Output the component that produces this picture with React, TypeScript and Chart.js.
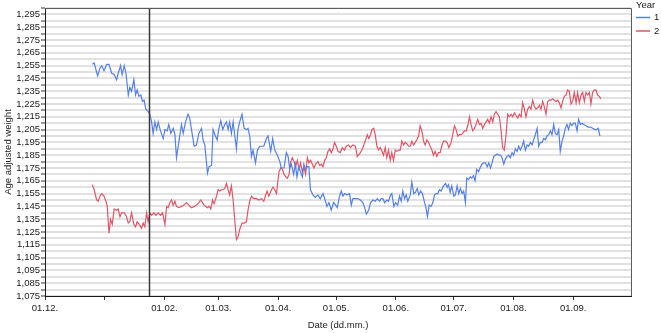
import React, { useEffect, useRef } from "react";
import { Chart, registerables } from "chart.js";

Chart.register(...registerables);

// ---- Data -------------------------------------------------------------
const seriesNames = ["1", "2"];
const legendTitle = "Year";
const xTitle = "Date (dd.mm.)";
const yTitle = "Age adjusted weight";

// x values are days counted from 01.12.
const xTickDays = [0, 31, 62, 90, 121, 151, 182, 212, 243, 274];
const xTickLabels = ["01.12.", "", "01.02.", "01.03.", "01.04.", "01.05.", "01.06.", "01.07.", "01.08.", "01.09."];
const yTickLabels = [
  "1,075", "1,085", "1,095", "1,105", "1,115", "1,125", "1,135", "1,145", "1,155", "1,165", "1,175", "1,185",
  "1,195", "1,205", "1,215", "1,225", "1,235", "1,245", "1,255", "1,265", "1,275", "1,285", "1,295",
];
const markerDay = 54;

const year1Days = [
  24.5, 25.5, 27.3, 28.5, 29.4, 30.6, 32.0, 33.2, 34.6, 35.9, 37.1, 38.0, 39.2, 40.0, 41.1, 42.0, 43.2, 44.0, 44.9, 46.1,
  47.0, 47.8, 48.7, 49.7, 50.6, 51.4, 52.3, 53.5, 54.4, 55.3, 56.1, 57.0, 57.9, 58.7, 59.9, 61.3, 62.2, 63.4, 64.2, 65.3,
  66.5, 67.4, 68.2, 69.6, 70.8, 71.7, 72.9, 74.2, 75.1, 76.0, 77.4, 78.6, 79.8, 81.2, 82.0, 82.9, 84.3, 85.1, 86.4, 87.2,
  88.4, 89.3, 90.1, 91.2, 92.2, 93.3, 94.1, 95.0, 95.8, 96.7, 97.6, 98.4, 99.3, 100.1, 101.0, 102.2, 103.3, 104.5, 105.3, 106.2,
  107.1, 107.9, 109.2, 110.2, 111.4, 112.3, 113.5, 114.9, 115.7, 117.1, 118.1, 119.2, 120.6, 121.8, 122.6, 124.0, 125.2, 126.1, 126.9, 127.8,
  129.0, 129.9, 130.7, 131.6, 132.6, 133.5, 134.3, 135.2, 136.1, 136.9, 137.7, 139.0, 140.2, 141.6, 142.8, 144.2, 145.1, 146.3, 147.3, 148.5,
  149.7, 150.8, 151.6, 152.8, 153.7, 154.5, 155.4, 156.6, 158.0, 158.9, 159.7, 161.0, 162.3, 163.6, 164.9, 165.8, 166.7, 167.9, 168.9, 170.1,
  171.3, 172.4, 173.6, 174.4, 175.3, 176.2, 177.3, 178.2, 179.3, 179.9, 181.0, 181.9, 183.0, 183.9, 184.8, 185.6, 186.5, 187.4, 188.2, 189.5,
  190.3, 191.3, 192.2, 193.1, 193.9, 194.8, 195.8, 196.9, 197.5, 198.4, 199.3, 200.3, 201.2, 202.1, 202.9, 203.8, 204.6, 205.5, 206.7, 207.8,
  208.6, 209.3, 210.2, 211.0, 212.1, 212.9, 213.8, 214.6, 215.5, 216.4, 217.2, 218.1, 218.8, 219.7, 220.6, 221.4, 222.3, 223.1, 224.0, 224.9,
  225.7, 226.6, 227.6, 228.5, 229.4, 230.2, 231.1, 231.9, 232.8, 233.7, 234.5, 235.4, 236.3, 237.1, 238.0, 238.8, 239.7, 240.6, 241.4, 242.3,
  243.1, 244.0, 244.9, 245.7, 246.6, 247.5, 248.3, 249.2, 250.1, 250.9, 251.8, 252.7, 253.5, 254.4, 255.3, 256.1, 257.0, 257.9, 258.7, 259.6,
  260.4, 261.3, 262.2, 263.0, 263.9, 264.7, 265.6, 266.5, 267.3, 268.2, 269.1, 269.9, 270.8, 271.6, 272.5, 273.4, 274.2, 275.1, 276.0, 276.8,
  277.7, 278.6, 279.4, 280.7, 281.8, 282.9, 284.1, 285.3, 286.1, 287.0, 287.9,
];
const year1Values = [
  1.256, 1.257, 1.247, 1.253, 1.255, 1.251, 1.256, 1.256, 1.249, 1.248, 1.244, 1.249, 1.255, 1.248, 1.255, 1.249, 1.232, 1.238, 1.235, 1.244,
  1.232, 1.236, 1.231, 1.232, 1.227, 1.228, 1.221, 1.219, 1.217, 1.211, 1.202, 1.211, 1.205, 1.211, 1.204, 1.198, 1.205, 1.204, 1.209, 1.202,
  1.206, 1.201, 1.183, 1.197, 1.209, 1.202, 1.211, 1.217, 1.214, 1.205, 1.192, 1.193, 1.202, 1.206, 1.197, 1.193, 1.171, 1.176, 1.177, 1.205,
  1.200, 1.197, 1.205, 1.212, 1.205, 1.209, 1.211, 1.205, 1.211, 1.202, 1.211, 1.201, 1.190, 1.205, 1.211, 1.217, 1.206, 1.205, 1.206, 1.200,
  1.184, 1.189, 1.179, 1.189, 1.192, 1.192, 1.192, 1.198, 1.200, 1.188, 1.198, 1.189, 1.185, 1.180, 1.175, 1.175, 1.187, 1.184, 1.175, 1.178,
  1.170, 1.178, 1.168, 1.176, 1.172, 1.168, 1.178, 1.174, 1.176, 1.176, 1.158, 1.154, 1.152, 1.154, 1.151, 1.155, 1.151, 1.145, 1.148, 1.142,
  1.148, 1.146, 1.144, 1.153, 1.157, 1.153, 1.155, 1.154, 1.155, 1.146, 1.151, 1.151, 1.151, 1.150, 1.148, 1.144, 1.139, 1.142, 1.148, 1.150,
  1.149, 1.151, 1.149, 1.151, 1.151, 1.148, 1.150, 1.149, 1.154, 1.155, 1.145, 1.148, 1.146, 1.153, 1.149, 1.157, 1.151, 1.154, 1.149, 1.154,
  1.164, 1.155, 1.156, 1.159, 1.154, 1.157, 1.155, 1.148, 1.145, 1.137, 1.146, 1.145, 1.148, 1.154, 1.155, 1.155, 1.158, 1.157, 1.161, 1.163,
  1.160, 1.162, 1.156, 1.161, 1.153, 1.154, 1.161, 1.155, 1.159, 1.155, 1.157, 1.148, 1.167, 1.166, 1.168, 1.167, 1.169, 1.165, 1.174, 1.172,
  1.175, 1.178, 1.179, 1.179, 1.176, 1.179, 1.175, 1.179, 1.184, 1.185, 1.186, 1.185, 1.185, 1.183, 1.178, 1.182, 1.184, 1.185, 1.183, 1.187,
  1.185, 1.190, 1.188, 1.192, 1.189, 1.192, 1.196, 1.189, 1.193, 1.192, 1.195, 1.193, 1.197, 1.201, 1.206, 1.192, 1.195, 1.195, 1.198, 1.197,
  1.200, 1.201, 1.204, 1.201, 1.209, 1.202, 1.201, 1.205, 1.188, 1.196, 1.200, 1.206, 1.209, 1.205, 1.210, 1.208, 1.210, 1.210, 1.204, 1.213,
  1.209, 1.210, 1.209, 1.208, 1.207, 1.207, 1.206, 1.205, 1.205, 1.206, 1.200,
];

const year2Days = [
  24.5, 25.5, 26.8, 27.6, 28.5, 29.4, 30.6, 31.6, 32.3, 33.2, 34.0, 34.9, 35.9, 37.1, 38.0, 38.9, 39.7, 41.1, 42.3, 43.2,
  44.0, 44.9, 46.1, 47.0, 47.8, 48.9, 50.1, 50.9, 51.8, 52.7, 53.5, 54.4, 55.3, 56.5, 57.5, 58.7, 59.9, 61.0, 62.2, 63.1,
  63.9, 64.8, 65.6, 66.5, 67.4, 68.2, 69.4, 70.8, 72.0, 73.4, 74.6, 76.0, 77.4, 78.6, 79.8, 80.8, 81.7, 82.5, 83.4, 84.3,
  85.1, 86.0, 86.9, 87.7, 89.0, 89.8, 90.7, 91.5, 92.4, 93.3, 94.1, 95.0, 95.8, 96.7, 97.6, 98.4, 99.3, 100.1, 101.0, 102.2,
  103.3, 104.5, 105.3, 106.2, 107.1, 108.3, 109.7, 110.9, 112.3, 113.5, 114.3, 115.2, 116.1, 117.5, 118.3, 119.2, 120.1, 120.9, 121.4, 122.3,
  123.2, 124.0, 124.9, 125.7, 126.6, 127.5, 128.3, 129.2, 130.0, 130.9, 131.8, 132.6, 133.5, 134.3, 135.2, 136.1, 136.9, 137.8, 138.7, 139.5,
  140.4, 141.6, 142.5, 143.4, 144.2, 145.1, 145.9, 146.8, 147.7, 148.5, 149.4, 150.2, 151.1, 152.0, 153.2, 154.2, 155.4, 156.3, 157.5, 158.5,
  159.7, 161.0, 162.0, 163.2, 164.4, 165.4, 166.3, 167.2, 168.0, 168.9, 169.6, 170.5, 171.3, 172.2, 173.0, 173.9, 174.8, 175.6, 176.5, 177.3,
  178.2, 179.1, 179.9, 180.8, 181.7, 182.5, 183.4, 184.3, 185.1, 186.0, 186.9, 187.7, 188.6, 189.5, 190.3, 191.2, 192.1, 192.9, 193.8, 194.6,
  195.5, 196.4, 197.2, 198.1, 199.0, 199.8, 200.7, 201.5, 202.4, 203.3, 204.1, 205.0, 205.8, 206.7, 207.6, 208.6, 209.5, 210.7, 211.5, 212.4,
  213.3, 214.1, 215.0, 215.9, 216.7, 217.6, 218.5, 219.3, 220.2, 221.0, 221.9, 222.8, 223.6, 224.5, 225.4, 226.2, 227.1, 228.0, 228.8, 229.7,
  230.5, 231.4, 232.3, 233.1, 234.0, 234.8, 235.7, 236.6, 237.4, 238.3, 239.2, 240.0, 240.9, 241.8, 242.6, 243.5, 244.4, 245.2, 246.1, 247.0,
  247.8, 248.7, 249.5, 250.4, 251.3, 252.1, 253.0, 253.9, 254.7, 255.6, 256.5, 257.3, 258.2, 259.0, 259.9, 260.8, 261.6, 262.5, 263.4, 264.2,
  265.1, 266.0, 266.8, 267.7, 268.5, 269.4, 270.3, 271.1, 272.0, 272.9, 273.7, 274.6, 275.5, 276.3, 277.2, 278.1, 278.9, 279.8, 280.6, 281.5,
  282.4, 283.2, 284.1, 285.0, 285.8, 286.7, 287.5, 288.4,
];
const year2Values = [
  1.162, 1.158, 1.150, 1.149, 1.153, 1.155, 1.153, 1.149, 1.145, 1.124, 1.135, 1.131, 1.143, 1.142, 1.143, 1.137, 1.140, 1.140, 1.137, 1.132,
  1.133, 1.140, 1.131, 1.129, 1.133, 1.131, 1.128, 1.132, 1.129, 1.140, 1.133, 1.140, 1.138, 1.140, 1.138, 1.140, 1.138, 1.140, 1.131, 1.145,
  1.144, 1.148, 1.150, 1.146, 1.149, 1.145, 1.144, 1.145, 1.146, 1.148, 1.146, 1.144, 1.145, 1.146, 1.148, 1.150, 1.148, 1.146, 1.145, 1.144,
  1.145, 1.143, 1.150, 1.147, 1.153, 1.158, 1.157, 1.158, 1.158, 1.159, 1.163, 1.158, 1.154, 1.161, 1.150, 1.135, 1.119, 1.121, 1.127, 1.132,
  1.132, 1.133, 1.142, 1.149, 1.153, 1.151, 1.151, 1.150, 1.151, 1.149, 1.153, 1.157, 1.153, 1.158, 1.160, 1.158, 1.155, 1.166, 1.172, 1.175,
  1.174, 1.170, 1.168, 1.167, 1.170, 1.180, 1.183, 1.180, 1.176, 1.181, 1.174, 1.179, 1.172, 1.176, 1.170, 1.183, 1.179, 1.181, 1.178, 1.175,
  1.178, 1.180, 1.177, 1.178, 1.176, 1.181, 1.183, 1.188, 1.190, 1.187, 1.190, 1.195, 1.192, 1.188, 1.187, 1.191, 1.189, 1.192, 1.193, 1.191,
  1.193, 1.192, 1.184, 1.186, 1.189, 1.193, 1.197, 1.201, 1.198, 1.201, 1.205, 1.206, 1.201, 1.192, 1.189, 1.191, 1.188, 1.185, 1.191, 1.183,
  1.189, 1.181, 1.187, 1.181, 1.189, 1.188, 1.189, 1.189, 1.196, 1.193, 1.195, 1.194, 1.192, 1.192, 1.196, 1.193, 1.195, 1.197, 1.200, 1.208,
  1.204, 1.196, 1.193, 1.197, 1.195, 1.192, 1.189, 1.185, 1.188, 1.184, 1.187, 1.187, 1.192, 1.196, 1.196, 1.195, 1.191, 1.195, 1.201, 1.208,
  1.205, 1.200, 1.201, 1.201, 1.202, 1.204, 1.204, 1.208, 1.215, 1.209, 1.204, 1.206, 1.209, 1.213, 1.209, 1.210, 1.206, 1.209, 1.211, 1.213,
  1.210, 1.215, 1.211, 1.217, 1.219, 1.217, 1.215, 1.204, 1.191, 1.189, 1.201, 1.217, 1.215, 1.217, 1.215, 1.218, 1.216, 1.214, 1.217, 1.215,
  1.226, 1.221, 1.215, 1.221, 1.223, 1.221, 1.228, 1.223, 1.221, 1.222, 1.224, 1.221, 1.227, 1.223, 1.217, 1.227, 1.228, 1.228, 1.229, 1.228,
  1.227, 1.228, 1.226, 1.222, 1.227, 1.231, 1.232, 1.236, 1.235, 1.225, 1.227, 1.234, 1.226, 1.234, 1.226, 1.232, 1.234, 1.227, 1.234, 1.232,
  1.234, 1.225, 1.234, 1.236, 1.236, 1.232, 1.231, 1.229,
];

// ---- Axis ranges ------------------------------------------------------
const xMin = 0;
const xMax = 304;
const yMin = 1.075;
const yMax = 1.3;
const yStep = 0.005;

const seriesColors = ["rgb(84,128,228)", "rgb(222,86,104)"];
const FONT_FAMILY = "Arial, 'Liberation Sans', sans-serif";
const FONT_SIZE = 9.5;
const TEXT_COLOR = "#1a1a1a";

const decorPlugin = {
  id: "decor",
  afterDatasetsDraw(chart: any) {
    const { ctx, chartArea: a, scales } = chart;
    ctx.save();
    const mx = Math.round(scales.x.getPixelForValue(markerDay)) + 0.5;
    ctx.strokeStyle = "#3a3a3a";
    ctx.lineWidth = 1.5;
    ctx.beginPath();
    ctx.moveTo(mx, a.top);
    ctx.lineTo(mx, a.bottom);
    ctx.stroke();
    ctx.strokeStyle = "#5a5a5a";
    ctx.lineWidth = 1;
    ctx.beginPath();
    ctx.moveTo(a.left, Math.round(a.top) + 0.5);
    ctx.lineTo(Math.round(a.right) + 0.5, Math.round(a.top) + 0.5);
    ctx.lineTo(Math.round(a.right) + 0.5, a.bottom);
    ctx.stroke();
    ctx.restore();
  },
  afterDraw(chart: any) {
    const { ctx, chartArea: a } = chart;
    const x0 = a.right + 5;
    ctx.save();
    ctx.font = `${FONT_SIZE}px ${FONT_FAMILY}`;
    ctx.fillStyle = TEXT_COLOR;
    ctx.textBaseline = "middle";
    ctx.textAlign = "left";
    ctx.fillText(legendTitle, x0, 5);
    chart.data.datasets.forEach((ds: any, i: number) => {
      const y = 17.5 + i * 13.5;
      ctx.strokeStyle = ds.borderColor;
      ctx.lineWidth = 1.5;
      ctx.beginPath();
      ctx.moveTo(x0, y);
      ctx.lineTo(x0 + 14, y);
      ctx.stroke();
      ctx.fillText(ds.label, x0 + 18, y);
    });
    ctx.restore();
  },
};

export default function App() {
  const canvasRef = useRef<HTMLCanvasElement | null>(null);

  useEffect(() => {
    if (!canvasRef.current) return;
    const yTickValues: number[] = [];
    const nY = Math.round((yMax - yMin) / yStep);
    for (let k = 0; k <= nY; k++) yTickValues.push(Math.round((yMin + k * yStep) * 10000) / 10000);

    const font = { family: FONT_FAMILY, size: FONT_SIZE };
    const chart = new Chart(canvasRef.current, {
      type: "line",
      data: {
        datasets: [
          {
            label: seriesNames[0],
            data: year1Days.map((d, i) => ({ x: d, y: year1Values[i] })),
            borderColor: seriesColors[0],
            backgroundColor: seriesColors[0],
            borderWidth: 1.2,
            pointRadius: 0,
            tension: 0,
          },
          {
            label: seriesNames[1],
            data: year2Days.map((d, i) => ({ x: d, y: year2Values[i] })),
            borderColor: seriesColors[1],
            backgroundColor: seriesColors[1],
            borderWidth: 1.2,
            pointRadius: 0,
            tension: 0,
          },
        ],
      },
      options: {
        responsive: false,
        animation: false,
        events: [],
        layout: { padding: { left: 0, right: 30, top: 8, bottom: 0 } },
        plugins: { legend: { display: false }, tooltip: { enabled: false } },
        scales: {
          x: {
            type: "linear",
            min: xMin,
            max: xMax,
            afterBuildTicks: (scale: any) => {
              scale.ticks = xTickDays.map((v) => ({ value: v }));
            },
            afterFit: (scale: any) => {
              scale.height = 37;
            },
            ticks: {
              autoSkip: false,
              maxRotation: 0,
              padding: 3,
              color: TEXT_COLOR,
              font,
              callback: (_v: any, i: number) => xTickLabels[i],
            },
            grid: {
              drawOnChartArea: false,
              drawTicks: true,
              tickLength: 4,
              tickColor: "#333",
              tickWidth: 1,
            },
            border: { display: true, color: "#1a1a1a", width: 1 },
            title: { display: true, text: xTitle, color: TEXT_COLOR, font, padding: { top: 0, bottom: 1.5 } },
          },
          y: {
            type: "linear",
            min: yMin,
            max: yMax,
            afterBuildTicks: (scale: any) => {
              scale.ticks = yTickValues.map((v) => ({ value: v }));
            },
            afterFit: (scale: any) => {
              scale.width = 45;
            },
            ticks: {
              autoSkip: false,
              padding: 1,
              color: TEXT_COLOR,
              font,
              callback: (_v: any, i: number) => (i % 2 === 0 ? yTickLabels[i / 2] : ""),
            },
            grid: {
              color: "#e2e2e2",
              lineWidth: 2,
              drawTicks: true,
              tickLength: 4,
              tickColor: "#333",
              tickWidth: 1,
            },
            border: { display: true, color: "#1a1a1a", width: 1 },
            title: { display: true, text: yTitle, color: TEXT_COLOR, font, padding: { top: 3, bottom: 0 } },
          },
        },
      },
      plugins: [decorPlugin],
    } as any);
    return () => chart.destroy();
  }, []);

  return (
    <div style={{ position: "fixed", left: 0, top: 0, width: 661, height: 333, background: "#fff" }}>
      <canvas ref={canvasRef} width={661} height={333} style={{ width: 661, height: 333, display: "block" }} />
    </div>
  );
}
